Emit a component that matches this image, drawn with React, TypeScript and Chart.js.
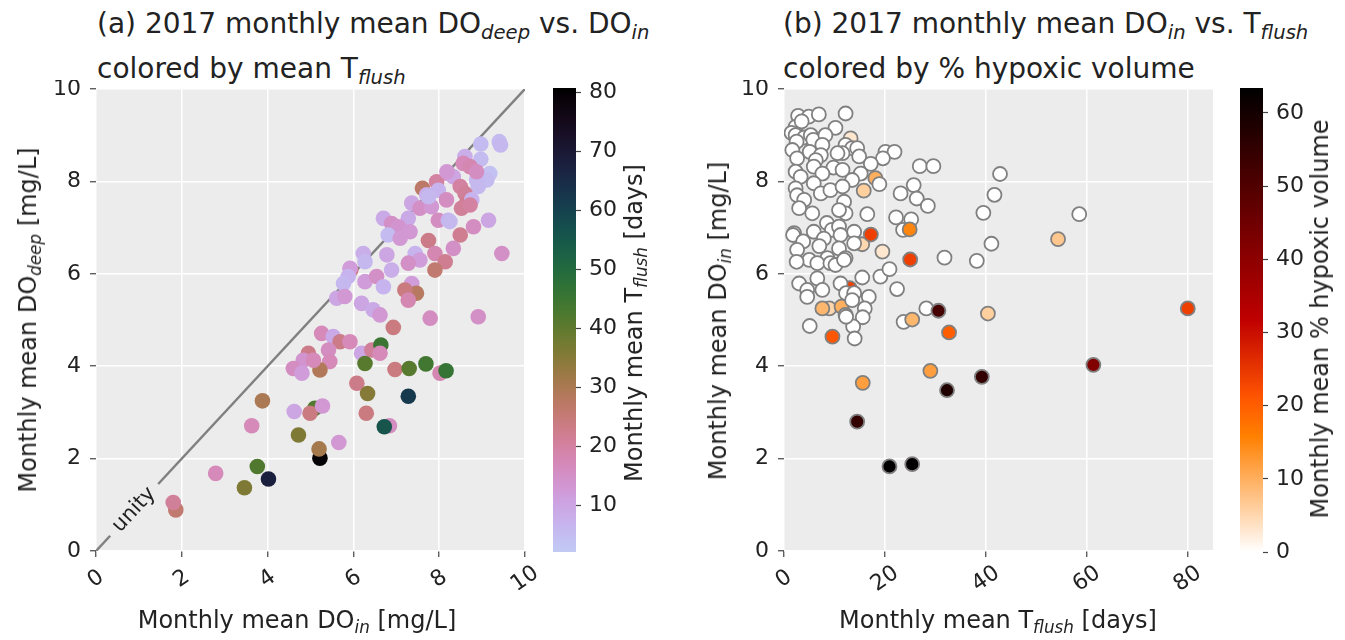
import React, { useEffect, useRef } from "react";
import { Chart, registerables } from "chart.js";

Chart.register(...registerables);

const FONT = '"DejaVu Sans", sans-serif';

// ---------------- Panel (a): DO_deep vs DO_in, colored by T_flush ----------------
const doInA = [
  9.40, 9.43, 8.97, 8.60, 8.97, 9.18, 9.11, 8.91, 8.56, 8.72,
  8.21, 8.33, 7.94, 7.61, 7.98, 7.71, 8.17, 8.49, 8.60, 8.64,
  8.52, 8.76, 8.87, 7.36, 7.55, 7.82, 7.98, 8.21, 7.28, 6.70,
  6.89, 7.05, 6.81, 7.09, 7.32, 7.75, 8.49, 8.80, 9.15, 9.46,
  8.33, 7.90, 8.14, 7.90, 7.44, 7.55, 7.28, 6.89, 6.78, 6.23,
  6.27, 5.94, 5.92, 5.88, 5.77, 5.61, 5.80, 6.27, 6.54, 6.70,
  7.36, 7.47, 7.20, 7.28, 6.19, 6.46, 6.62, 7.79, 8.91, 6.93,
  5.26, 5.53, 5.69, 5.92, 5.42, 5.45, 5.22, 4.95, 4.83, 4.60,
  4.80, 5.07, 6.19, 6.43, 6.64, 6.62, 6.27, 6.97, 7.30, 7.69,
  8.02, 8.16, 6.08, 6.33, 7.28, 3.88, 4.62, 5.10, 4.99, 5.28,
  6.30, 3.63, 4.72, 6.84, 6.72, 5.66, 5.22, 5.20, 3.76, 4.02,
  3.46, 2.79, 1.86, 1.80, 8.87, 7.75, 8.25, 8.72, 8.18,
];
const doDeepA = [
  8.86, 8.79, 8.81, 8.54, 8.48, 8.17, 8.03, 7.89, 8.39, 8.32,
  8.17, 8.10, 7.99, 7.85, 7.81, 7.71, 7.60, 7.89, 7.74, 7.53,
  7.42, 7.60, 8.03, 7.53, 7.42, 7.45, 7.16, 7.16, 7.20, 7.20,
  7.09, 7.02, 6.84, 6.77, 6.91, 6.72, 6.84, 7.02, 7.16, 6.44,
  6.55, 6.44, 6.26, 6.08, 6.44, 6.30, 6.23, 6.08, 6.41, 6.44,
  6.26, 6.08, 6.12, 5.94, 5.79, 5.47, 5.51, 5.83, 5.94, 5.72,
  5.79, 5.58, 5.65, 5.43, 5.36, 5.22, 5.11, 5.04, 5.07, 4.84,
  4.71, 4.64, 4.53, 4.53, 4.35, 4.10, 3.92, 4.28, 4.13, 3.95,
  3.85, 4.13, 4.28, 4.35, 4.46, 4.28, 4.06, 3.93, 3.95, 4.05,
  3.85, 3.90, 3.63, 3.41, 3.35, 3.25, 3.02, 3.09, 2.98, 3.14,
  2.98, 2.71, 2.51, 2.71, 2.69, 2.35, 2.01, 2.21, 1.83, 1.56,
  1.37, 1.68, 0.89, 1.05, 8.21, 7.67, 7.13, 7.49, 8.21,
];
const tFlushA = [
  5, 6, 5, 8, 5, 4, 5, 6, 17, 18,
  14, 10, 20, 27, 7, 8, 16, 20, 21, 22,
  21, 7, 6, 10, 15, 13, 16, 7, 9, 9,
  15, 14, 5, 13, 13, 23, 22, 16, 10, 15,
  15, 18, 22, 26, 7, 12, 15, 8, 10, 8,
  6, 22, 12, 7, 6, 10, 13, 12, 15, 7,
  12, 28, 24, 18, 10, 9, 13, 16, 15, 24,
  17, 9, 23, 17, 16, 17, 29, 23, 14, 16,
  12, 17, 10, 21, 45, 17, 41, 24, 41, 44,
  18, 46, 23, 35, 62, 30, 10, 42, 24, 13,
  24, 17, 36, 16, 56, 13, 80, 31, 42, 68,
  36, 17, 26, 21, 16, 6, 6, 20, 13,
];

// ---------------- Panel (b): DO_in vs T_flush, colored by % hypoxic volume ----------------
const tFlushB = [
  13.0, 18.1, 13.2, 15.5, 9.0, 11.4,
  2.8, 4.9, 6.9, 12.2, 10.2, 2.3, 1.5, 2.3, 3.5, 4.0,
  2.5, 5.3, 5.8, 8.2, 7.6, 1.65, 2.6, 5.1, 7.3, 6.3,
  12.2, 13.5, 14.5, 11.6, 10.6, 14.9, 20.1, 21.9, 19.6, 17.2,
  2.3, 3.3, 5.9, 9.8, 7.6, 11.6, 15.2, 13.5, 18.9, 2.3,
  2.6, 5.9, 7.3, 9.2, 11.6, 4.0, 11.9, 3.0, 5.6, 12.2,
  10.9, 16.5, 8.5, 2.0, 1.8, 5.9, 9.5, 7.9, 10.9, 11.2,
  13.9, 13.9, 3.8, 7.0, 10.9, 2.6, 5.0, 8.6, 12.2, 2.5,
  6.6, 9.2, 10.2, 11.9, 6.6, 3.0, 4.6, 4.6, 7.6, 11.2,
  12.3, 13.9, 13.5, 16.8, 15.5, 19.1, 20.9, 22.4, 12.2, 16.0,
  15.6, 13.7, 14.0, 12.3, 5.1, 58.5, 42.8, 41.7, 39.5, 41.1,
  38.2, 28.2, 31.8, 26.9, 29.6, 25.7, 26.3, 28.5, 25.2, 23.1,
  22.2, 23.6, 23.7,
  15.8, 19.5, 17.2, 24.9, 25.0, 25.4, 7.6, 9.6, 15.6, 14.5,
  20.9, 25.4, 29.0, 32.3, 32.7, 30.6, 39.2, 40.4, 54.3, 61.3, 80.0,
];
const doInB = [
  5.69, 8.07, 8.93, 6.64, 5.25, 5.29,
  9.42, 9.40, 9.45, 9.47, 9.16, 9.18, 9.05, 9.00, 9.30, 8.95,
  8.86, 9.00, 8.90, 9.00, 8.79, 8.68, 8.50, 8.64, 8.57, 8.46,
  8.79, 8.72, 8.72, 8.61, 8.61, 8.54, 8.64, 8.64, 8.50, 8.38,
  8.21, 8.10, 8.32, 8.30, 8.17, 8.25, 8.17, 8.03, 7.94, 7.85,
  7.70, 7.96, 7.74, 7.81, 7.89, 7.60, 7.56, 7.42, 7.31, 7.31,
  7.38, 7.29, 7.10, 6.88, 6.84, 6.91, 6.95, 6.76, 7.02, 6.84,
  6.91, 6.66, 6.70, 6.60, 6.55, 6.52, 6.30, 6.34, 6.34, 6.26,
  6.23, 6.23, 6.19, 6.30, 5.90, 5.79, 5.65, 5.50, 5.65, 5.79,
  5.58, 5.58, 5.43, 5.50, 5.92, 5.94, 6.10, 5.67, 5.11, 5.25,
  5.06, 4.86, 4.60, 5.07, 4.87, 7.29, 8.16, 7.71, 7.32, 6.65,
  6.28, 5.25, 6.35, 8.33, 8.33, 7.92, 7.63, 7.47, 7.18, 7.74,
  7.22, 6.95, 4.96,
  7.80, 6.48, 6.85, 6.96, 6.31, 5.01, 5.25, 4.64, 3.64, 2.80,
  1.83, 1.88, 3.90, 3.48, 4.73, 5.20, 3.77, 5.14, 6.75, 4.03, 5.25,
];
const hypoxicB = [
  24, 10, 3, 5, 5, 10,
  0, 0, 0, 0, 0, 0, 0, 0, 0, 0,
  0, 0, 0, 0, 0, 0, 0, 0, 0, 0,
  0, 0, 0, 0, 0, 0, 0, 0, 0, 0,
  0, 0, 0, 0, 0, 0, 0, 0, 0, 0,
  0, 0, 0, 0, 0, 0, 0, 0, 0, 0,
  0, 0, 0, 0, 0, 0, 0, 0, 0, 0,
  0, 0, 0, 0, 0, 0, 0, 0, 0, 0,
  0, 0, 0, 0, 0, 0, 0, 0, 0, 0,
  0, 0, 0, 0, 0, 0, 0, 0, 0, 0,
  0, 0, 0, 0, 0, 0, 0, 0, 0, 0,
  0, 0, 0, 0, 0, 0, 0, 0, 0, 0,
  0, 0, 0,
  6, 3, 24, 15, 24, 9, 9, 21, 12, 55,
  63, 63, 12, 58, 20, 52, 55, 6, 7, 42, 24,
];

// ---------------- axes / ticks ----------------
const doTicks = [0, 2, 4, 6, 8, 10];
const doRange = [0, 10];
const tFlushAxisTicks = [0, 20, 40, 60, 80];
const tFlushAxisRange = [0, 85];
const tFlushBarTicks = [10, 20, 30, 40, 50, 60, 70, 80];
const tFlushBarRange = [2.07, 80.75];
const hypoxicBarTicks = [0, 10, 20, 30, 40, 50, 60];
const hypoxicBarRange = [0, 63.4];
const unityEnds = [0, 10];
const unityGap = [0.33, 1.45];
const unityLabel = "unity";

// ---------------- colormaps ----------------
const clamp01 = (v: number) => Math.max(0, Math.min(1, v));
const rgb = (r: number, g: number, b: number) =>
  `rgb(${Math.round(clamp01(r) * 255)},${Math.round(clamp01(g) * 255)},${Math.round(clamp01(b) * 255)})`;

// matplotlib cubehelix (gamma 1, s 0.5, r -1.5, h 1)
function cubehelix(t: number) {
  const a = (t * (1 - t)) / 2;
  const phi = 2 * Math.PI * (0.5 / 3 - 1.5 * t);
  const c = Math.cos(phi);
  const s = Math.sin(phi);
  return rgb(
    t + a * (-0.14861 * c + 1.78277 * s),
    t + a * (-0.29227 * c - 0.90649 * s),
    t + a * (1.97294 * c)
  );
}
function tFlushColor(v: number) {
  const f = clamp01((v - tFlushBarRange[0]) / (tFlushBarRange[1] - tFlushBarRange[0]));
  return cubehelix(0.8 * (1 - f));
}
// matplotlib gist_heat_r
function hypoxicColor(v: number) {
  const x = 1 - clamp01((v - hypoxicBarRange[0]) / (hypoxicBarRange[1] - hypoxicBarRange[0]));
  return rgb(1.5 * x, 2 * x - 1, 4 * x - 3);
}

// ---------------- plugins ----------------
const panelBg = {
  id: "panelBg",
  beforeDraw(chart: any) {
    const { ctx, chartArea: a } = chart;
    ctx.save();
    ctx.fillStyle = "#ececec";
    ctx.fillRect(a.left, a.top, a.right - a.left, a.bottom - a.top);
    ctx.restore();
  },
};

const rotatedXTicks = {
  id: "rotatedXTicks",
  afterDraw(chart: any) {
    const sc = chart.scales.x;
    const ctx = chart.ctx;
    const ang = (35 * Math.PI) / 180;
    ctx.save();
    ctx.font = `22px ${FONT}`;
    ctx.fillStyle = "#222";
    ctx.textAlign = "center";
    ctx.textBaseline = "middle";
    for (const t of sc.ticks) {
      const px = sc.getPixelForValue(t.value);
      ctx.save();
      ctx.translate(px, chart.chartArea.bottom + 28);
      ctx.rotate(-ang);
      ctx.fillText(String(t.value), 0, 0);
      ctx.restore();
    }
    ctx.restore();
  },
};

const unityText = {
  id: "unityText",
  afterDatasetsDraw(chart: any) {
    const xs = chart.scales.x;
    const ys = chart.scales.y;
    const mid = (unityGap[0] + unityGap[1]) / 2;
    const px = xs.getPixelForValue(mid);
    const py = ys.getPixelForValue(mid);
    const ang = Math.atan2(
      ys.getPixelForValue(0) - ys.getPixelForValue(1),
      xs.getPixelForValue(1) - xs.getPixelForValue(0)
    );
    const ctx = chart.ctx;
    ctx.save();
    ctx.font = `21px ${FONT}`;
    ctx.fillStyle = "#222";
    ctx.textAlign = "center";
    ctx.textBaseline = "middle";
    ctx.translate(px, py);
    ctx.rotate(-ang);
    ctx.fillText(unityLabel, 0, 0);
    ctx.restore();
  },
};

const gridStyle = {
  color: "#ffffff",
  lineWidth: 1.5,
  drawTicks: true,
  tickLength: 6,
  tickColor: "#444",
  tickWidth: 1.2,
};

const setTicks = (vals: number[]) => (s: any) => {
  s.ticks = vals.map((v) => ({ value: v }));
};

// ---------------- components ----------------
type PanelProps = {
  left: number;
  top: number;
  width: number;
  height: number;
  yAxisWidth: number;
  padRight: number;
  xs: number[];
  ys: number[];
  colors: string[];
  xRange: number[];
  xTicks: number[];
  radius: number;
  borderColor: string;
  borderWidth: number;
  unity: boolean;
};

function ScatterPanel(p: PanelProps) {
  const ref = useRef<HTMLCanvasElement>(null);
  useEffect(() => {
    const datasets: any[] = [
      {
        type: "scatter",
        data: p.xs.map((x, i) => ({ x, y: p.ys[i] })),
        backgroundColor: p.colors,
        borderColor: p.borderColor,
        borderWidth: p.borderWidth,
        pointRadius: p.radius,
        pointHoverRadius: p.radius,
        order: 1,
      },
    ];
    if (p.unity) {
      const lineStyle = {
        type: "line",
        borderColor: "#808080",
        borderWidth: 2.5,
        pointRadius: 0,
        fill: false,
        order: 2,
      };
      datasets.push({
        ...lineStyle,
        data: [
          { x: unityEnds[0], y: unityEnds[0] },
          { x: unityGap[0], y: unityGap[0] },
        ],
      });
      datasets.push({
        ...lineStyle,
        data: [
          { x: unityGap[1], y: unityGap[1] },
          { x: unityEnds[1], y: unityEnds[1] },
        ],
      });
    }
    const plugins: any[] = [panelBg, rotatedXTicks];
    if (p.unity) plugins.push(unityText);
    const chart = new Chart(ref.current as HTMLCanvasElement, {
      type: "scatter",
      data: { datasets },
      options: {
        responsive: false,
        animation: false,
        events: [],
        layout: { padding: { top: 9, right: p.padRight, bottom: 0, left: 0 } },
        plugins: { legend: { display: false }, tooltip: { enabled: false } },
        scales: {
          x: {
            type: "linear",
            min: p.xRange[0],
            max: p.xRange[1],
            afterBuildTicks: setTicks(p.xTicks),
            afterFit: (s: any) => {
              s.height = 59;
              s.paddingLeft = 0;
              s.paddingRight = 0;
            },
            grid: gridStyle,
            border: { display: false },
            ticks: { display: false },
          },
          y: {
            type: "linear",
            min: doRange[0],
            max: doRange[1],
            afterBuildTicks: setTicks(doTicks),
            afterFit: (s: any) => {
              s.width = p.yAxisWidth;
              s.paddingTop = 0;
              s.paddingBottom = 0;
            },
            grid: gridStyle,
            border: { display: false },
            ticks: { font: { family: FONT, size: 22 }, color: "#222", padding: 9 },
          },
        },
      } as any,
      plugins,
    });
    return () => chart.destroy();
  }, []);
  return (
    <canvas
      ref={ref}
      width={p.width}
      height={p.height}
      style={{ position: "absolute", left: p.left, top: p.top, width: p.width, height: p.height }}
    />
  );
}

type BarProps = {
  left: number;
  top: number;
  width: number;
  height: number;
  axisWidth: number;
  range: number[];
  ticks: number[];
  colorFn: (v: number) => string;
};

function ColorBar(p: BarProps) {
  const ref = useRef<HTMLCanvasElement>(null);
  useEffect(() => {
    const fill = {
      id: "cbFill",
      beforeDraw(chart: any) {
        const { ctx, chartArea: a } = chart;
        const g = ctx.createLinearGradient(0, a.bottom, 0, a.top);
        const n = 80;
        for (let i = 0; i <= n; i++) {
          const v = p.range[0] + ((p.range[1] - p.range[0]) * i) / n;
          g.addColorStop(i / n, p.colorFn(v));
        }
        ctx.save();
        ctx.fillStyle = g;
        ctx.fillRect(a.left, a.top, a.right - a.left, a.bottom - a.top);
        ctx.restore();
      },
    };
    const chart = new Chart(ref.current as HTMLCanvasElement, {
      type: "scatter",
      data: { datasets: [] },
      options: {
        responsive: false,
        animation: false,
        events: [],
        layout: { padding: { top: 8, bottom: 8, left: 8, right: 0 } },
        plugins: { legend: { display: false }, tooltip: { enabled: false } },
        scales: {
          x: { display: false, min: 0, max: 1 },
          y: {
            type: "linear",
            position: "right",
            min: p.range[0],
            max: p.range[1],
            afterBuildTicks: setTicks(p.ticks),
            afterFit: (s: any) => {
              s.width = p.axisWidth;
              s.paddingTop = 0;
              s.paddingBottom = 0;
            },
            grid: {
              drawOnChartArea: false,
              drawTicks: true,
              tickLength: 5,
              tickColor: "#444",
              tickWidth: 1.2,
            },
            border: { display: false },
            ticks: { font: { family: FONT, size: 22 }, color: "#222", padding: 8 },
          },
        },
      } as any,
      plugins: [fill],
    });
    return () => chart.destroy();
  }, []);
  return (
    <canvas
      ref={ref}
      width={p.width}
      height={p.height}
      style={{ position: "absolute", left: p.left, top: p.top, width: p.width, height: p.height }}
    />
  );
}

const Sub = ({ children }: { children: React.ReactNode }) => (
  <span style={{ fontSize: "0.7em", fontStyle: "italic", position: "relative", top: "0.3em" }}>
    {children}
  </span>
);

const labelBase: React.CSSProperties = {
  position: "absolute",
  whiteSpace: "nowrap",
  lineHeight: 1,
  fontSize: 24,
  fontFamily: FONT,
  color: "#222",
};

function Label({ x, y, vertical, children }: { x: number; y: number; vertical?: boolean; children: React.ReactNode }) {
  return (
    <div
      style={{
        ...labelBase,
        left: x,
        top: y,
        transform: vertical ? "translate(-50%, -50%) rotate(-90deg)" : "translate(-50%, -50%)",
      }}
    >
      {children}
    </div>
  );
}

const titleStyle: React.CSSProperties = {
  position: "absolute",
  top: 3,
  whiteSpace: "nowrap",
  fontSize: 28,
  lineHeight: "42px",
  fontFamily: FONT,
  color: "#222",
};

export default function App() {
  return (
    <div style={{ position: "absolute", left: 0, top: 0, width: 1345, height: 640, background: "#fff" }}>
      <div style={{ ...titleStyle, left: 97 }}>
        (a) 2017 monthly mean DO<Sub>deep</Sub> vs. DO<Sub>in</Sub>
        <br />
        colored by mean T<Sub>flush</Sub>
      </div>
      <div style={{ ...titleStyle, left: 783 }}>
        (b) 2017 monthly mean DO<Sub>in</Sub> vs. T<Sub>flush</Sub>
        <br />
        colored by % hypoxic volume
      </div>

      <ScatterPanel
        left={0}
        top={80}
        width={540}
        height={530}
        yAxisWidth={96}
        padRight={15}
        xs={doInA}
        ys={doDeepA}
        colors={tFlushA.map(tFlushColor)}
        xRange={doRange}
        xTicks={doTicks}
        radius={7.8}
        borderColor="rgba(0,0,0,0)"
        borderWidth={0}
        unity={true}
      />
      <ColorBar
        left={545}
        top={80}
        width={85}
        height={480}
        axisWidth={54}
        range={tFlushBarRange}
        ticks={tFlushBarTicks}
        colorFn={tFlushColor}
      />

      <ScatterPanel
        left={700}
        top={80}
        width={530}
        height={530}
        yAxisWidth={84}
        padRight={17}
        xs={tFlushB}
        ys={doInB}
        colors={hypoxicB.map(hypoxicColor)}
        xRange={tFlushAxisRange}
        xTicks={tFlushAxisTicks}
        radius={7}
        borderColor="#808080"
        borderWidth={1.8}
        unity={false}
      />
      <ColorBar
        left={1232}
        top={80}
        width={80}
        height={480}
        axisWidth={49}
        range={hypoxicBarRange}
        ticks={hypoxicBarTicks}
        colorFn={hypoxicColor}
      />

      <Label x={28} y={320} vertical>
        Monthly mean DO<Sub>deep</Sub> [mg/L]
      </Label>
      <Label x={297} y={620}>
        Monthly mean DO<Sub>in</Sub> [mg/L]
      </Label>
      <Label x={634} y={323} vertical>
        Monthly mean T<Sub>flush</Sub> [days]
      </Label>

      <Label x={718} y={321} vertical>
        Monthly mean DO<Sub>in</Sub> [mg/L]
      </Label>
      <Label x={998} y={620}>
        Monthly mean T<Sub>flush</Sub> [days]
      </Label>
      <Label x={1320} y={319} vertical>
        Monthly mean % hypoxic volume
      </Label>
    </div>
  );
}
